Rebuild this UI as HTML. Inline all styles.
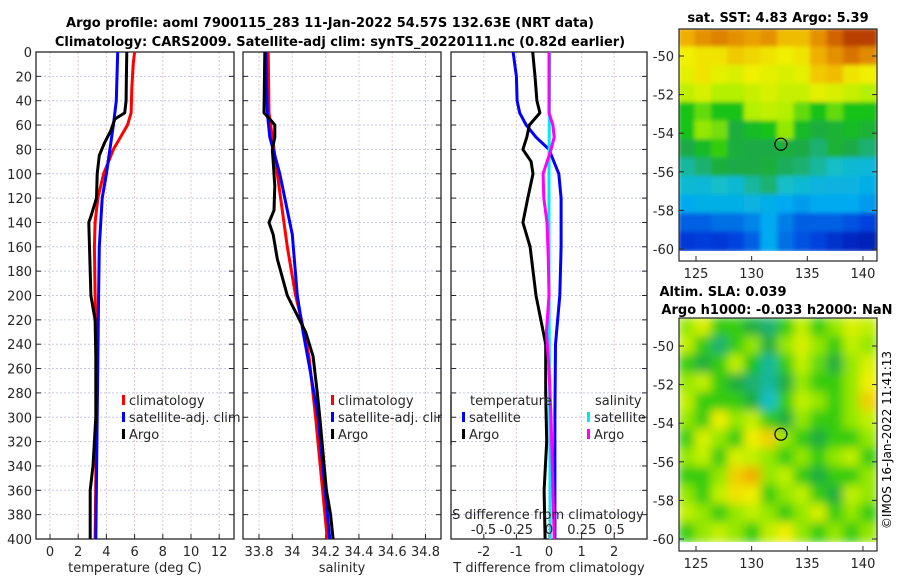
<!DOCTYPE html>
<html><head><meta charset="utf-8">
<style>
html,body{margin:0;padding:0;background:#fff;}
svg text{font-family:"DejaVu Sans","Liberation Sans",sans-serif;fill:#262626;}
</style></head>
<body>
<svg id="chart" width="900" height="580" viewBox="0 0 900 580" xmlns="http://www.w3.org/2000/svg">
<defs>
<clipPath id="c1"><rect x="36" y="52" width="198" height="487"/></clipPath>
<clipPath id="c2"><rect x="243" y="52" width="198" height="487"/></clipPath>
<clipPath id="c3"><rect x="451" y="52" width="196" height="487"/></clipPath>
<clipPath id="cm1"><rect x="679" y="29" width="198" height="222"/></clipPath>
<clipPath id="cm2"><rect x="679" y="318" width="198" height="224"/></clipPath>
<filter id="bl" x="-5%" y="-5%" width="110%" height="110%"><feGaussianBlur stdDeviation="5"/></filter>
<filter id="bl2" x="-5%" y="-5%" width="110%" height="110%"><feGaussianBlur stdDeviation="2"/></filter>
</defs>
<text x="330" y="27" text-anchor="middle" font-size="13" font-weight="bold" style="fill:#000">Argo profile: aoml 7900115_283 11-Jan-2022 54.57S 132.63E (NRT data)</text>
<text x="340" y="46" text-anchor="middle" font-size="13" font-weight="bold" style="fill:#000">Climatology: CARS2009. Satellite-adj clim: synTS_20220111.nc (0.82d earlier)</text>
<text x="778" y="22" text-anchor="middle" font-size="13" font-weight="bold" style="fill:#000">sat. SST: 4.83 Argo: 5.39</text>
<text x="723" y="296" text-anchor="middle" font-size="13" font-weight="bold" style="fill:#000">Altim. SLA: 0.039</text>
<text x="777" y="314" text-anchor="middle" font-size="13" font-weight="bold" style="fill:#000">Argo h1000: -0.033 h2000: NaN</text>
<text x="0" y="0" transform="translate(891,440) rotate(-90)" text-anchor="middle" font-size="12" style="fill:#000">©IMOS 16-Jan-2022 11:41:13</text>
<g id="g"></g>
</svg>
<script>
// ---------- data ----------
const depthTicks = [0,20,40,60,80,100,120,140,160,180,200,220,240,260,280,300,320,340,360,380,400];
const tempTicks = [0,2,4,6,8,10,12];
const salTicks = [33.8,34,34.2,34.4,34.6,34.8];
const salTickLabels = ["33.8","34","34.2","34.4","34.6","34.8"];
const tdiffTicks = [-2,-1,0,1,2];
const sdiffTicks = [-0.5,-0.25,0,0.25,0.5];
const sdiffTickLabels = ["-0.5","-0.25","0","0.25","0.5"];
const latTicks = [-50,-52,-54,-56,-58,-60];
const lonTicks = [125,130,135,140];

const climTDepth = [0,10,30,50,60,80,100,120,140,160,200,250,300,400];
const climT = [6.0,5.9,5.8,5.75,5.5,4.5,3.8,3.4,3.2,3.15,3.2,3.35,3.3,3.2];
const satTDepth = [0,20,40,60,80,100,120,160,200,250,300,400];
const satT = [4.8,4.75,4.7,4.5,4.25,4.0,3.7,3.5,3.45,3.4,3.35,3.25];
const argoTDepth = [0,20,40,50,55,65,75,85,100,120,135,140,160,200,220,250,300,340,360,400];
const argoT = [5.45,5.42,5.4,5.3,4.6,4.3,3.85,3.5,3.35,3.3,2.9,2.75,2.8,2.9,3.2,3.25,3.25,3.05,2.85,2.85];

const climSDepth = [0,50,80,120,160,200,220,250,300,400];
const climS = [33.855,33.86,33.89,33.93,33.97,34.02,34.055,34.1,34.14,34.21];
const satSDepth = [0,50,70,100,150,200,230,260,300,400];
const satS = [33.84,33.85,33.865,33.925,34.0,34.03,34.065,34.105,34.155,34.225];
const argoSDepth = [0,50,55,60,70,80,90,110,130,140,150,170,200,230,250,280,300,360,380,400];
const argoS = [33.835,33.83,33.865,33.895,33.895,33.88,33.885,33.895,33.89,33.86,33.885,33.91,33.97,34.08,34.125,34.15,34.165,34.205,34.23,34.245];

const tdDepth = [0,20,40,50,60,70,80,100,120,160,200,240,300,400];
const satTdiff = [-1.1,-1.0,-0.98,-0.9,-0.7,-0.4,0,0.3,0.37,0.37,0.33,0.2,0.18,0.18];
const argoTdDepth = [0,20,40,50,60,70,80,90,100,120,140,160,200,240,280,320,360,400];
const argoTdiff = [-0.5,-0.43,-0.37,-0.28,-0.6,-0.68,-0.8,-0.55,-0.49,-0.65,-0.8,-0.58,-0.4,-0.1,-0.1,-0.07,-0.15,-0.12];
const sdDepth = [0,100,200,300,400];
const satSdiff = [0.005,0.0,0.0,0.005,0.01];
const argoSdDepth = [0,50,60,70,80,100,120,140,170,200,230,260,300,400];
const argoSdiff = [0,0,0.03,0.04,0.015,-0.045,-0.04,-0.015,-0.005,0,-0.02,0,0.015,0.04];

const sstGrid = [
[0.8,0.84,0.86,0.84,0.82,0.84,0.78,0.78,0.84,0.9,0.95,0.95],
[0.7,0.72,0.72,0.76,0.74,0.72,0.7,0.72,0.8,0.84,0.88,0.85],
[0.68,0.72,0.68,0.66,0.7,0.68,0.66,0.68,0.76,0.78,0.72,0.7],
[0.62,0.66,0.6,0.6,0.63,0.66,0.63,0.63,0.68,0.66,0.63,0.6],
[0.5,0.55,0.5,0.5,0.6,0.62,0.6,0.55,0.5,0.55,0.5,0.5],
[0.5,0.58,0.56,0.45,0.48,0.5,0.58,0.48,0.45,0.46,0.48,0.46],
[0.44,0.48,0.52,0.45,0.44,0.44,0.45,0.44,0.42,0.46,0.44,0.42],
[0.4,0.42,0.45,0.44,0.44,0.45,0.43,0.42,0.4,0.38,0.36,0.35],
[0.36,0.35,0.38,0.36,0.4,0.42,0.38,0.36,0.34,0.33,0.33,0.32],
[0.3,0.32,0.32,0.32,0.33,0.32,0.3,0.28,0.3,0.3,0.3,0.28],
[0.2,0.2,0.22,0.22,0.25,0.3,0.24,0.2,0.2,0.2,0.18,0.16],
[0.14,0.15,0.14,0.16,0.2,0.3,0.22,0.18,0.16,0.12,0.1,0.08]];
const slaGrid = [
[0.58,0.66,0.52,0.52,0.45,0.42,0.52,0.62,0.52,0.58,0.66,0.62],
[0.62,0.52,0.42,0.52,0.58,0.45,0.58,0.66,0.58,0.52,0.62,0.58],
[0.52,0.45,0.52,0.62,0.5,0.4,0.52,0.62,0.55,0.45,0.58,0.66],
[0.58,0.62,0.52,0.45,0.42,0.4,0.45,0.58,0.52,0.52,0.58,0.7],
[0.62,0.52,0.52,0.52,0.45,0.38,0.52,0.62,0.58,0.52,0.58,0.75],
[0.58,0.52,0.7,0.58,0.62,0.52,0.45,0.58,0.52,0.52,0.58,0.62],
[0.52,0.66,0.58,0.52,0.7,0.75,0.58,0.52,0.45,0.52,0.52,0.58],
[0.58,0.62,0.52,0.66,0.62,0.58,0.52,0.58,0.52,0.58,0.62,0.52],
[0.52,0.52,0.58,0.75,0.8,0.58,0.62,0.52,0.45,0.52,0.52,0.58],
[0.58,0.52,0.62,0.72,0.7,0.52,0.58,0.62,0.52,0.45,0.62,0.58],
[0.62,0.58,0.52,0.58,0.62,0.58,0.52,0.58,0.66,0.52,0.58,0.52],
[0.52,0.58,0.62,0.58,0.52,0.62,0.7,0.58,0.52,0.58,0.52,0.58]];
const argoPos = [132.63,-54.57];

// ---------- helpers ----------
const NS="http://www.w3.org/2000/svg";
const G=document.getElementById('g');
function mk(tag,attrs,parent){const e=document.createElementNS(NS,tag);for(const k in attrs)e.setAttribute(k,attrs[k]);(parent||G).appendChild(e);return e;}
const yD = d => 52 + d*1.2175;
const xT = t => 50 + t*14.1;
const xS = s => 259 + (s-33.8)*166.5;
const xTd = d => 549 + d*32.6;
const xSd = d => 549 + d*131;
const mLon = l => 696 + (l-125)*11.13;
const mLat1 = l => 56 + (-50-l)*19.3;
const mLat2 = l => 346 + (-50-l)*19.3;

function panel(x0,w,name,xticks,xfn){
  const g=mk('g',{});
  
  
  depthTicks.forEach(d=>{const l=mk('line',{x1:x0,x2:x0+w,y1:yD(d),y2:yD(d),stroke:'#c4c8e6','stroke-width':1,'stroke-dasharray':'2,2'},g);
    });
  xticks.forEach(v=>{const l=mk('line',{x1:xfn(v),x2:xfn(v),y1:52,y2:539,stroke:'#e2c8c8','stroke-width':1,'stroke-dasharray':'2,2'},g);
    });
  return g;
}
function frame(x0,w,g,xticks,xfn,labels,ylabels){
  const r=mk('rect',{x:x0,y:52,width:w,height:487,fill:'none',stroke:'#262626','stroke-width':1.3},g);
  
  depthTicks.forEach(d=>{
    mk('line',{x1:x0,x2:x0+5,y1:yD(d),y2:yD(d),stroke:'#262626'},g);
    mk('line',{x1:x0+w-5,x2:x0+w,y1:yD(d),y2:yD(d),stroke:'#262626'},g);
    if(ylabels){const t=mk('text',{x:x0-4,y:yD(d)+5,'text-anchor':'end','font-size':13},g);t.textContent=d;
      }
  });
  xticks.forEach((v,i)=>{
    mk('line',{x1:xfn(v),x2:xfn(v),y1:539,y2:534,stroke:'#262626'},g);
    if(labels){const t=mk('text',{x:xfn(v),y:556,'text-anchor':'middle','font-size':13},g);t.textContent=labels[i];
      }
  });
}
function line(xs,ds,xfn,color,name,clip,w){
  const p=mk('polyline',{points:xs.map((v,i)=>xfn(v).toFixed(1)+','+yD(ds[i]).toFixed(1)).join(' '),fill:'none',stroke:color,'stroke-width':w||3,'stroke-linejoin':'round','clip-path':'url(#'+clip+')'});
  
}
function legendItem(x,y,color,label,name){
  const g=mk('g',{});
  if(color){mk('rect',{x:x,y:y-10,width:3,height:10,fill:color},g);}
  const t=mk('text',{x:x+(color?7:0),y:y,'font-size':13},g);t.textContent=label;
}
function cmap(v){
  const st=[[0,[0,0,140]],[0.15,[0,60,220]],[0.3,[0,170,240]],[0.38,[20,190,200]],[0.44,[30,170,70]],[0.5,[20,195,20]],[0.6,[180,240,0]],[0.7,[240,240,0]],[0.8,[240,175,0]],[0.9,[210,100,0]],[1,[160,30,0]]];
  v=Math.max(0,Math.min(1,v));
  for(let i=1;i<st.length;i++){if(v<=st[i][0]){const a=st[i-1],b=st[i],f=(v-a[0])/(b[0]-a[0]);
    return 'rgb('+a[1].map((c,j)=>Math.round(c+(b[1][j]-c)*f)).join(',')+')';}}
  return 'rgb(160,30,0)';
}
function heat(grid,x0,y0,w,h,clip,name,filt){
  const outer=mk('g',{'clip-path':'url(#'+clip+')'});
  const g=mk('g',filt?{filter:'url(#'+filt+')'}:{},outer);
  
  const rows=grid.length,cols=grid[0].length,cw=w/cols,ch=h/rows;
  grid.forEach((row,r)=>row.forEach((v,c)=>{
    const e=mk('rect',{x:(x0+c*cw-1).toFixed(1),y:(y0+r*ch-1).toFixed(1),width:(cw+2).toFixed(1),height:(ch+2).toFixed(1),fill:cmap(v)},g);
    
  }));
}
function mapAxes(y0,h,dataH,latfn,name){
  const g=mk('g',{});
  mk('rect',{x:679,y:y0,width:198,height:h,fill:'none',stroke:'#262626','stroke-width':1.2},g);
  latTicks.forEach(l=>{const y=latfn(l);
    mk('line',{x1:679,x2:684,y1:y,y2:y,stroke:'#262626'},g);mk('line',{x1:872,x2:877,y1:y,y2:y,stroke:'#262626'},g);
    const t=mk('text',{x:674,y:y+5,'text-anchor':'end','font-size':13},g);t.textContent=l;
    });
  lonTicks.forEach(l=>{const x=mLon(l);
    mk('line',{x1:x,x2:x,y1:y0+h,y2:y0+h-5,stroke:'#262626'},g);
    const t=mk('text',{x:x,y:y0+h+17,'text-anchor':'middle','font-size':13},g);t.textContent=l;
    });
}

// ---------- panel 1: temperature ----------
const g1=panel(36,198,'temperature-panel',tempTicks,xT);
line(climT,climTDepth,xT,'#ff0000','climatology-temp-line','c1');
line(satT,satTDepth,xT,'#0000ff','satellite-temp-line','c1');
line(argoT,argoTDepth,xT,'#000000','argo-temp-line','c1');
frame(36,198,g1,tempTicks,xT,tempTicks.map(String),true);
const xl1=mk('text',{x:135,y:572,'text-anchor':'middle','font-size':13});xl1.textContent='temperature (deg C)';

legendItem(122,405,'#ff0000','climatology','legend-climatology');
legendItem(122,422,'#0000ff','satellite-adj. clim','legend-satellite');
legendItem(122,439,'#000000','Argo','legend-argo');

// ---------- panel 2: salinity ----------
const g2=panel(243,198,'salinity-panel',salTicks,xS);
line(climS,climSDepth,xS,'#ff0000','climatology-sal-line','c2');
line(satS,satSDepth,xS,'#0000ff','satellite-sal-line','c2');
line(argoS,argoSDepth,xS,'#000000','argo-sal-line','c2');
frame(243,198,g2,salTicks,xS,salTickLabels,false);
const xl2=mk('text',{x:342,y:572,'text-anchor':'middle','font-size':13});xl2.textContent='salinity';

legendItem(331,405,'#ff0000','climatology','legend-climatology-2');
legendItem(331,422,'#0000ff','satellite-adj. clim','legend-satellite-2');
legendItem(331,439,'#000000','Argo','legend-argo-2');
const cover=mk('rect',{x:442,y:395,width:8,height:50,fill:'#fff'});
mk('line',{x1:451,x2:451,y1:395,y2:445,stroke:'#262626','stroke-width':1.3});

// ---------- panel 3: differences ----------
const g3=panel(451,196,'difference-panel',tdiffTicks,xTd);
mk('line',{x1:549,x2:549,y1:52,y2:539,stroke:'#000','stroke-width':1,'stroke-dasharray':'1,2'});
line(satTdiff,tdDepth,xTd,'#0000ff','satellite-tdiff-line','c3');
line(argoTdiff,argoTdDepth,xTd,'#000000','argo-tdiff-line','c3');
line(satSdiff,sdDepth,xSd,'#00e8f0','satellite-sdiff-line','c3');
line(argoSdiff,argoSdDepth,xSd,'#ff00ff','argo-sdiff-line','c3');
frame(451,196,g3,tdiffTicks,xTd,tdiffTicks.map(String),false);
const xl3=mk('text',{x:549,y:572,'text-anchor':'middle','font-size':13});xl3.textContent='T difference from climatology';

const sl=mk('text',{x:548,y:519,'text-anchor':'middle','font-size':13});sl.textContent='S difference from climatology';

sdiffTicks.forEach((v,i)=>{const t=mk('text',{x:xSd(v),y:534,'text-anchor':'middle','font-size':13});t.textContent=sdiffTickLabels[i];
  });
legendItem(470,405,null,'temperature','legend-temperature-header');
legendItem(462,422,'#0000ff','satellite','legend-t-satellite');
legendItem(462,439,'#000000','Argo','legend-t-argo');
legendItem(595,405,null,'salinity','legend-salinity-header');
legendItem(587,422,'#00e8f0','satellite','legend-s-satellite');
legendItem(587,439,'#ff00ff','Argo','legend-s-argo');

// ---------- maps ----------
heat(sstGrid,679,29,198,222,'cm1','sst-heatmap','bl2');
mapAxes(29,232,222,mLat1,'sst-map-axes');
const c1=mk('circle',{cx:mLon(argoPos[0]),cy:mLat1(argoPos[1]),r:6,fill:'none',stroke:'#000','stroke-width':1.2});

heat(slaGrid,679,318,198,224,'cm2','sla-heatmap','bl');
mapAxes(318,233,224,mLat2,'sla-map-axes');
const c2=mk('circle',{cx:mLon(argoPos[0]),cy:mLat2(argoPos[1]),r:6,fill:'none',stroke:'#000','stroke-width':1.2});

</script>
</body></html>
